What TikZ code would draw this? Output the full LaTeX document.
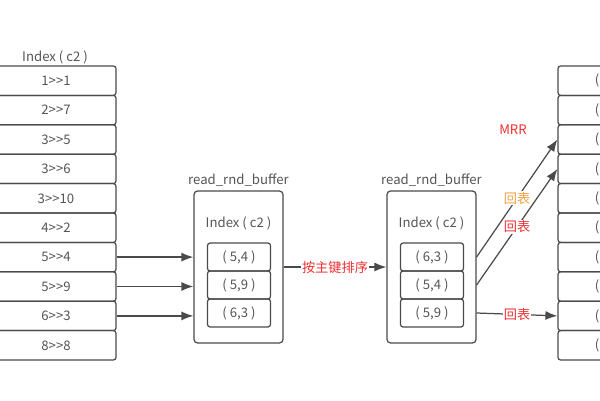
\documentclass[tikz,border=0pt]{standalone}
\usepackage{fontspec}
\setmainfont{Noto Sans CJK SC}
\usetikzlibrary{arrows.meta,positioning}

\definecolor{linegray}{HTML}{4A4A4A}
\definecolor{txtgray}{HTML}{555555}
\definecolor{mrrred}{HTML}{F03030}
\definecolor{backorange}{HTML}{F5A040}

\begin{document}
\begin{tikzpicture}[
		x=0.02cm, y=-0.02cm,
		every node/.style={font=\fontsize{7.5}{9}\selectfont, text=txtgray},
		cell/.style={draw=linegray, line width=0.7pt, rounded corners=1.5pt, minimum width=2.4cm, minimum height=0.588cm, inner sep=0pt},
		bufcell/.style={cell, minimum width=1.26cm, minimum height=0.56cm},
		bufbox/.style={draw=linegray, line width=0.7pt, rounded corners=2pt, minimum width=1.78cm, minimum height=3.04cm, inner sep=0pt},
		link/.style={draw=linegray, line width=0.7pt, -{Latex[length=2.4mm,width=1.8mm]}},
		tag/.style={fill=white, inner sep=0.5pt}
	]
		\clip (0,0) rectangle (600,400);
		% index on c2
		\node (ltitle) at (55,57) {Index ( c2 )};
		\foreach \t [count=\i] in {1>{}>1,2>{}>7,3>{}>5,3>{}>6,3>{}>10,4>{}>2,5>{}>4,5>{}>9,6>{}>3,8>{}>8}
			\node[cell] (l\i) at (56,66+29.4*\i-14.7) {\t};
		% first buffer
		\node[bufbox, label={[name=b1name, label distance=-1pt]above:read\_rnd\_buffer}] (buf1) at (238.5,267) {};
		\node (b1title) at (238.5,223) {Index ( c2 )};
		\foreach \t [count=\i] in {{( 5,4 )},{( 5,9 )},{( 6,3 )}}
			\node[bufcell] (b1c\i) at (239,229+28*\i) {\t};
		% sorted buffer
		\node[bufbox, label={[name=b2name, label distance=-1pt]above:read\_rnd\_buffer}] (buf2) at (431.5,267) {};
		\node (b2title) at (431.5,223) {Index ( c2 )};
		\foreach \t [count=\i] in {{( 6,3 )},{( 5,4 )},{( 5,9 )}}
			\node[bufcell] (b2c\i) at (432,229+28*\i) {\t};
		% table rows
		\foreach \i in {1,...,10}{
			\node[cell, minimum width=2.04cm] (r\i) at (609,66+29.4*\i-14.7) {};
			\node (rp\i) at (597,66+29.4*\i-14.7) {(};
		}
		% arrows
		\foreach \i in {7,8,9}
			\draw[link] (l\i.east) -- (buf1.west |- l\i.east);
		\draw[link] (buf1.east) -- node[tag, text=mrrred]{按主键排序} (buf2.west);
		\draw[link] (buf2.east |- b2c1) -- node[tag, text=backorange]{回表} (r3.west);
		\draw[link] (buf2.east |- b2c2) -- node[tag, text=mrrred]{回表} (r4.west);
		\draw[link] (buf2.east |- b2c3) -- node[tag, text=mrrred]{回表} (r9.west);
		\node[text=mrrred] (mrr) at (513,130) {MRR};
	\end{tikzpicture}
\end{document}
